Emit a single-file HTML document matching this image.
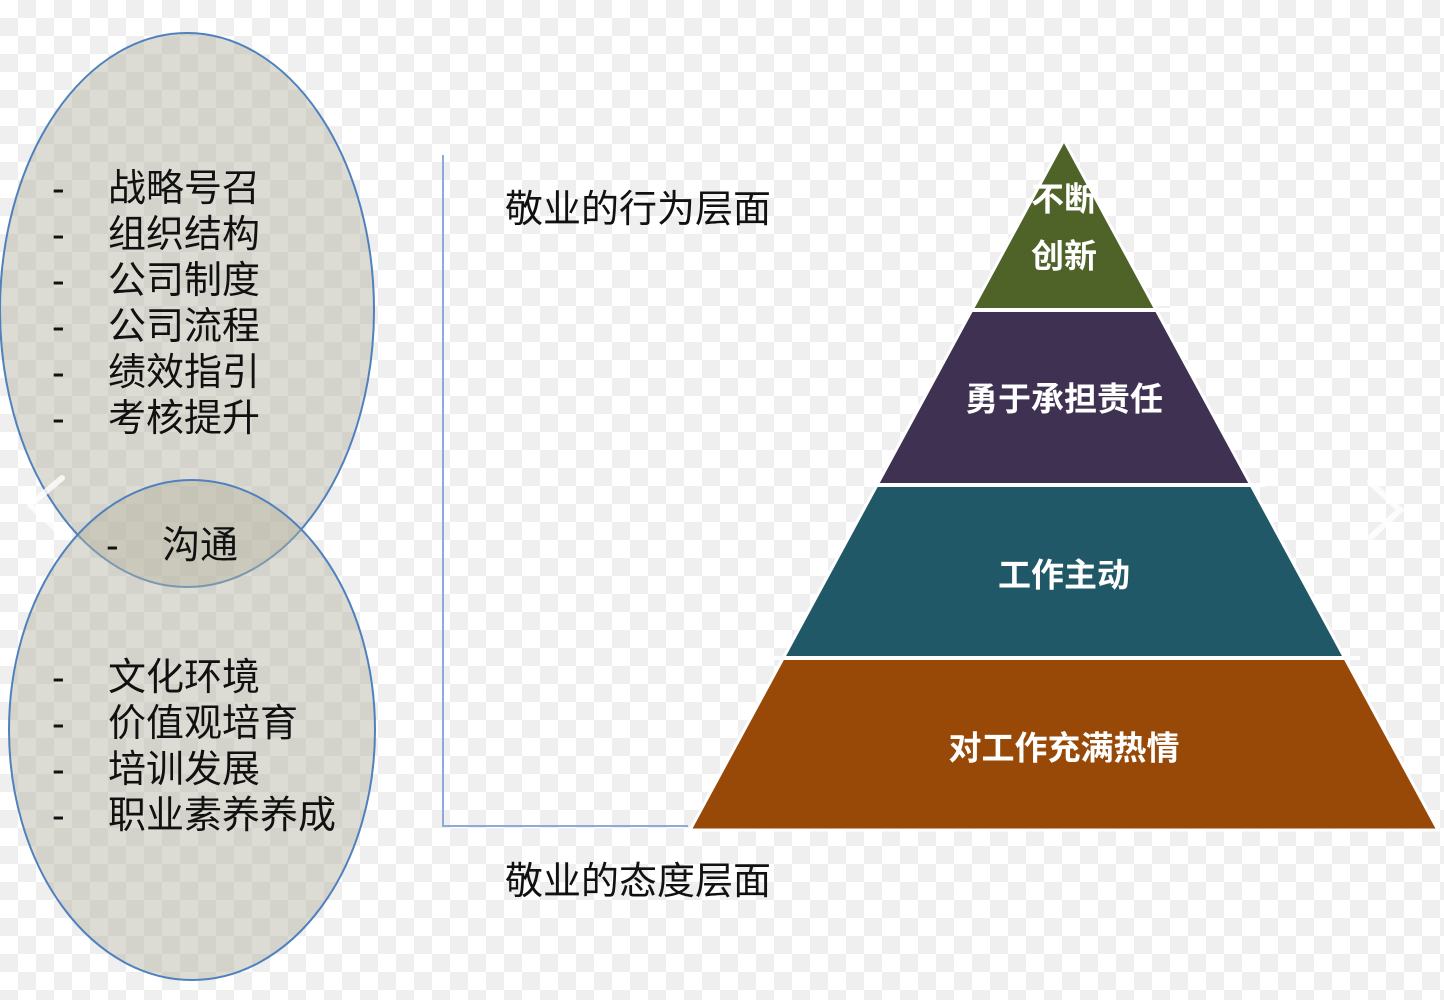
<!DOCTYPE html>
<html><head><meta charset="utf-8"><style>
html,body{margin:0;padding:0;}
body{width:1444px;height:1000px;overflow:hidden;
background-color:#fff;
background-image:linear-gradient(45deg,#efefef 25%,transparent 25%,transparent 75%,#efefef 75%),linear-gradient(45deg,#efefef 25%,transparent 25%,transparent 75%,#efefef 75%);
background-size:36px 36px;background-position:0 0,18px 18px;}
svg{position:absolute;left:0;top:0;}
text{font-family:"Liberation Sans","Noto Sans CJK SC",sans-serif;}
</style></head><body>
<svg width="1444" height="1000" viewBox="0 0 1444 1000">
<ellipse cx="187" cy="310" rx="187" ry="277" fill="rgba(180,178,160,0.45)" stroke="#4f81bd" stroke-width="2"/>
<ellipse cx="192" cy="730" rx="183" ry="250" fill="rgba(180,178,160,0.45)" stroke="#4f81bd" stroke-width="2"/>
<path d="M30 505 L62 478 M30 505 L62 534" stroke="#fff" stroke-width="6" fill="none" opacity="0.8" stroke-linecap="round"/>
<path d="M1370 482 L1400 510 L1370 538" stroke="#fff" stroke-width="6" fill="none" opacity="0.8" stroke-linecap="round"/>
<g font-size="38" fill="#111" dominant-baseline="central">
<text x="52" y="189">-</text><text x="108" y="189">战略号召</text>
<text x="52" y="235">-</text><text x="108" y="235">组织结构</text>
<text x="52" y="281">-</text><text x="108" y="281">公司制度</text>
<text x="52" y="327">-</text><text x="108" y="327">公司流程</text>
<text x="52" y="373">-</text><text x="108" y="373">绩效指引</text>
<text x="52" y="419">-</text><text x="108" y="419">考核提升</text>
<text x="106" y="546">-</text><text x="162" y="546">沟通</text>
<text x="52" y="678">-</text><text x="108" y="678">文化环境</text>
<text x="52" y="724">-</text><text x="108" y="724">价值观培育</text>
<text x="52" y="770">-</text><text x="108" y="770">培训发展</text>
<text x="52" y="816">-</text><text x="108" y="816">职业素养养成</text>
<text x="505" y="210">敬业的行为层面</text>
<text x="505" y="882">敬业的态度层面</text>
</g>
<path d="M443 155 L443 826 L688 826" stroke="#8eaadb" stroke-width="2" fill="none"/>
<polygon points="1064,140 1156,310 972,310" fill="#4f6228"/>
<polygon points="972,310 1156,310 1251,485 877,485" fill="#3f3151"/>
<polygon points="877,485 1251,485 1345,658 783,658" fill="#215868"/>
<polygon points="783,658 1345,658 1438,830 690,830" fill="#984807"/>
<g stroke="#fff" stroke-width="4">
<line x1="960" y1="310" x2="1170" y2="310"/><line x1="865" y1="485" x2="1265" y2="485"/><line x1="770" y1="658" x2="1360" y2="658"/>
</g>
<polygon points="1064,140 1438,830 690,830" fill="none" stroke="#fff" stroke-width="3"/>
<g font-size="33" font-weight="bold" fill="#fff" text-anchor="middle" dominant-baseline="central">
<text x="1064" y="199">不断</text><text x="1064" y="256">创新</text>
<text x="1064" y="399">勇于承担责任</text>
<text x="1064" y="575">工作主动</text>
<text x="1064" y="748">对工作充满热情</text>
</g>
</svg>
</body></html>
